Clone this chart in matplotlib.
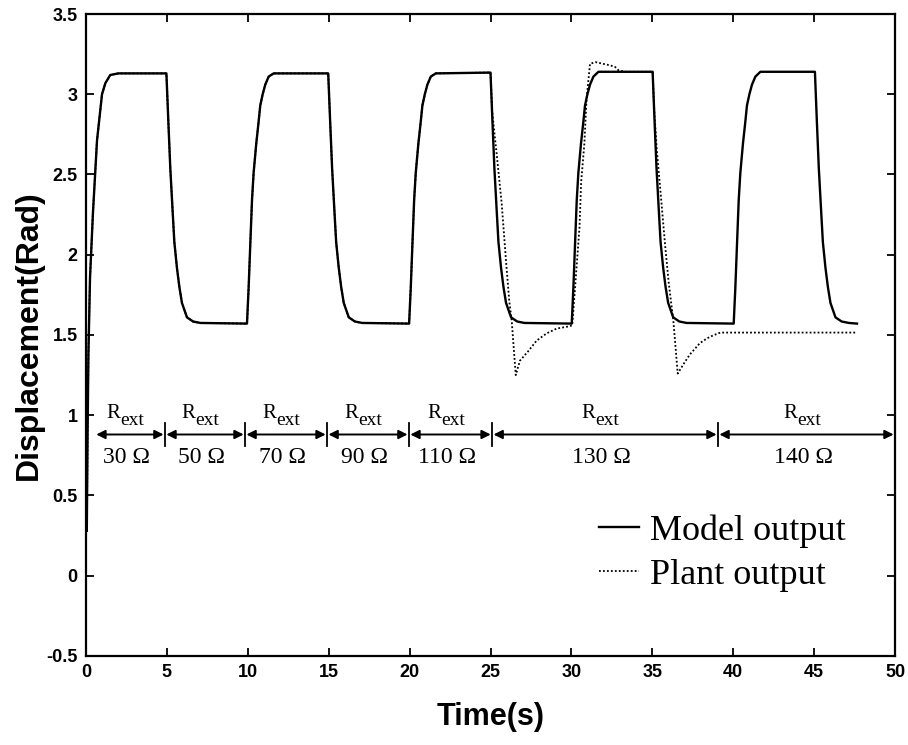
import matplotlib
matplotlib.use("Agg")
import matplotlib.pyplot as plt
from matplotlib.ticker import MultipleLocator, FormatStrFormatter

plt.rcParams["axes.unicode_minus"] = False
plt.rcParams["font.family"] = ["Liberation Sans", "DejaVu Sans"]

# Model output (solid)
model_t = [0.05, 0.1, 0.15, 0.25, 0.43, 0.68, 0.99, 1.2, 1.5, 2.0, 4.97,
           5.09, 5.21, 5.35, 5.46, 5.62, 5.77, 5.93, 6.24, 6.62, 7.07, 9.95,
           10.05, 10.16, 10.26, 10.36, 10.52, 10.67, 10.77, 10.92, 11.08, 11.29, 11.6, 14.97,
           15.09, 15.21, 15.35, 15.46, 15.62, 15.77, 15.93, 16.24, 16.62, 17.07, 19.97,
           20.07, 20.18, 20.28, 20.38, 20.54, 20.69, 20.79, 20.94, 21.1, 21.31, 21.62, 25.0,
           25.12, 25.24, 25.38, 25.49, 25.65, 25.8, 25.96, 26.27, 26.65, 27.1, 30.02,
           30.12, 30.23, 30.33, 30.43, 30.59, 30.74, 30.84, 30.99, 31.15, 31.36, 31.67, 35.02,
           35.14, 35.26, 35.4, 35.51, 35.67, 35.82, 35.98, 36.29, 36.67, 37.12, 40.03,
           40.13, 40.24, 40.34, 40.44, 40.6, 40.75, 40.85, 41.0, 41.16, 41.37, 41.68, 45.05,
           45.17, 45.29, 45.43, 45.54, 45.7, 45.85, 46.01, 46.32, 46.7, 47.15, 47.65]
model_y = [0.28, 0.9, 1.38, 1.86, 2.26, 2.71, 3.0, 3.07, 3.12, 3.13, 3.13,
           2.83, 2.54, 2.28, 2.08, 1.92, 1.80, 1.70, 1.61, 1.584, 1.575, 1.571,
           1.79, 2.08, 2.34, 2.51, 2.69, 2.83, 2.93, 3.0, 3.06, 3.11, 3.13, 3.13,
           2.83, 2.54, 2.28, 2.08, 1.92, 1.80, 1.70, 1.61, 1.584, 1.575, 1.571,
           1.79, 2.08, 2.34, 2.51, 2.69, 2.83, 2.93, 3.0, 3.06, 3.11, 3.13, 3.135,
           2.83, 2.54, 2.28, 2.08, 1.92, 1.80, 1.70, 1.61, 1.584, 1.575, 1.571,
           1.79, 2.08, 2.34, 2.51, 2.69, 2.83, 2.93, 3.0, 3.06, 3.11, 3.14, 3.14,
           2.83, 2.54, 2.28, 2.08, 1.92, 1.80, 1.70, 1.61, 1.584, 1.575, 1.571,
           1.79, 2.08, 2.34, 2.51, 2.69, 2.83, 2.93, 3.0, 3.06, 3.11, 3.14, 3.14,
           2.83, 2.54, 2.28, 2.08, 1.92, 1.80, 1.70, 1.61, 1.584, 1.575, 1.571]

# Plant output (dotted): follows the model until 25 s, then deviates
plant_split = 25.0
plant_tail_t = [25.1, 25.25, 25.42, 25.69, 25.96, 26.16, 26.31, 26.56, 26.82, 27.34,
                27.85, 28.47, 29.09, 29.81, 30.05, 30.2, 30.5, 30.6, 30.8, 30.93,
                31.15, 31.5, 31.95, 32.4, 32.7, 32.9, 33.3, 35.02,
                35.12, 35.28, 35.5, 35.8, 36.02, 36.3, 36.57, 37.0, 37.33, 37.95,
                38.4, 38.75, 39.2, 40.0, 47.65]
plant_tail_y = [2.9, 2.75, 2.59, 2.32, 1.96, 1.71, 1.59, 1.25, 1.34, 1.40,
                1.465, 1.51, 1.54, 1.553, 1.56, 1.76, 2.17, 2.45, 2.69, 2.96,
                3.19, 3.2, 3.19, 3.18, 3.17, 3.15, 3.14, 3.14,
                2.9, 2.65, 2.4, 2.05, 1.82, 1.59, 1.26, 1.33, 1.38, 1.45,
                1.48, 1.497, 1.515, 1.515, 1.515]

# Rext intervals
rext_bounds = [0.55, 4.88, 9.83, 14.9, 19.96, 25.1, 39.06, 50.0]
rext_labels = ["30 Ω", "50 Ω", "70 Ω", "90 Ω", "110 Ω", "130 Ω", "140 Ω"]

plant_t = [t for t in model_t if t <= plant_split] + plant_tail_t
plant_y = [y for t, y in zip(model_t, model_y) if t <= plant_split] + plant_tail_y

fig = plt.figure(figsize=(9.08, 7.45), dpi=100)
ax = fig.add_axes([0.0947, 0.1195, 0.891, 0.8617])

ax.plot(model_t, model_y, color="black", lw=1.7, label="Model output")
ax.plot(plant_t, plant_y, color="black", lw=1.3, ls=(0, (1, 1.2)), label="Plant output")

# Rext arrows and labels
arrow_y = 0.88
for i in range(len(rext_bounds) - 1):
  x0, x1 = rext_bounds[i], rext_bounds[i + 1]
  ax.annotate("", xy=(x1, arrow_y), xytext=(x0, arrow_y),
              arrowprops=dict(arrowstyle="<|-|>", color="black", lw=1.4,
                              mutation_scale=13, shrinkA=1, shrinkB=1))
  xc = (x0 + x1) / 2
  ax.annotate("R", xy=(xc, 0.985), xytext=(-7, 0), textcoords="offset points",
              ha="right", va="baseline", fontsize=15, family="Liberation Serif")
  ax.annotate("ext", xy=(xc, 0.985), xytext=(-7, -5), textcoords="offset points",
              ha="left", va="baseline", fontsize=14, family="Liberation Serif")
  ax.text(xc - 0.2, 0.7, rext_labels[i], ha="center", va="baseline",
          fontsize=17, family="Liberation Serif")
for xb in rext_bounds[1:-1]:
  ax.plot([xb, xb], [0.81, 0.95], color="black", lw=1.3)

ax.set_xlim(0, 50)
ax.set_ylim(-0.5, 3.5)
ax.xaxis.set_major_locator(MultipleLocator(5))
ax.yaxis.set_major_locator(MultipleLocator(0.5))
ax.yaxis.set_major_formatter(FormatStrFormatter("%g"))
ax.tick_params(direction="in", top=True, right=True, length=6, width=1.3,
               labelsize=13, pad=6)
for lab in ax.get_xticklabels() + ax.get_yticklabels():
  lab.set_fontweight("bold")
  lab.set_family(["Liberation Sans Narrow", "Liberation Sans"])
for s in ax.spines.values():
  s.set_linewidth(1.6)

ax.set_xlabel("Time(s)", fontsize=22, fontweight="bold", labelpad=15)
ax.set_ylabel("Displacement(Rad)", fontsize=23, fontweight="bold", labelpad=2)

ax.legend(loc="lower right", bbox_to_anchor=(0.957, 0.077), frameon=False,
          prop={"family": "Liberation Serif", "size": 26}, handlelength=1.1,
          handletextpad=0.3, labelspacing=0.3, borderaxespad=0)

fig.savefig("out.png", dpi=100)
